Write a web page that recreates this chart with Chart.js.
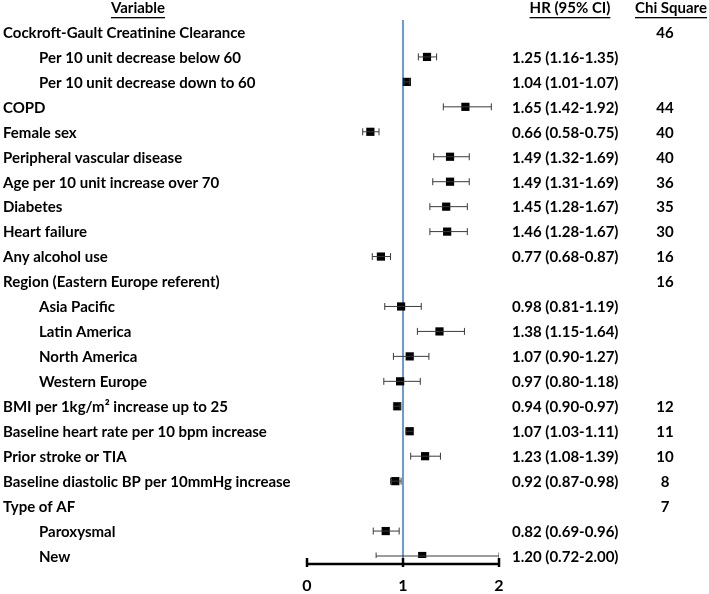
<!DOCTYPE html>
<html>
<head>
<meta charset="utf-8">
<script src="https://cdn.jsdelivr.net/npm/chart.js@4.4.0/dist/chart.umd.min.js"></script>
<style>
  html, body { margin: 0; padding: 0; background: #fff; }
  #wrap { width: 709px; height: 594px; }
</style>
</head>
<body>
<div id="wrap"><canvas id="forestChart"></canvas></div>
<script>
// rows, top to bottom
var variables = [
  "Cockroft-Gault Creatinine Clearance",
  "Per 10 unit decrease below 60",
  "Per 10 unit decrease down to 60",
  "COPD",
  "Female sex",
  "Peripheral vascular disease",
  "Age per 10 unit increase over 70",
  "Diabetes",
  "Heart failure",
  "Any alcohol use",
  "Region (Eastern Europe referent)",
  "Asia Pacific",
  "Latin America",
  "North America",
  "Western Europe",
  "BMI per 1kg/m\u00B2 increase up to 25",
  "Baseline heart rate per 10 bpm increase",
  "Prior stroke or TIA",
  "Baseline diastolic BP per 10mmHg increase",
  "Type of AF",
  "Paroxysmal",
  "New"
];
var subItem = [false, true, true, false, false, false, false, false, false, false, false,
  true, true, true, true, false, false, false, false, false, true, true];

var hr     = [null, 1.25, 1.04, 1.65, 0.66, 1.49, 1.49, 1.45, 1.46, 0.77, null, 0.98, 1.38, 1.07, 0.97, 0.94, 1.07, 1.23, 0.92, null, 0.82, 1.20];
var ciLow  = [null, 1.16, 1.01, 1.42, 0.58, 1.32, 1.31, 1.28, 1.28, 0.68, null, 0.81, 1.15, 0.90, 0.80, 0.90, 1.03, 1.08, 0.87, null, 0.69, 0.72];
var ciHigh = [null, 1.35, 1.07, 1.92, 0.75, 1.69, 1.69, 1.67, 1.67, 0.87, null, 1.19, 1.64, 1.27, 1.18, 0.97, 1.11, 1.39, 0.98, null, 0.96, 2.00];
var chiSquare = [46, null, null, 44, 40, 40, 36, 35, 30, 16, 16, null, null, null, null, 12, 11, 10, 8, 7, null, null];

var xTicks = [0, 1, 2];

var FONT = "Lato, 'Open Sans', sans-serif";
var BLUE = '#6b9bd2';

// build datasets from the arrays
var ciLines = [], ciCaps = [], hrPoints = [];
for (var i = 0; i < variables.length; i++) {
  if (hr[i] === null) continue;
  ciLines.push({x: ciLow[i], y: i}, {x: ciHigh[i], y: i}, {x: null, y: null});
  ciCaps.push({x: ciLow[i], y: i}, {x: ciHigh[i], y: i});
  hrPoints.push({x: hr[i], y: i});
}

function fmt(v) { return v.toFixed(2); }

// text columns + axis baseline
var tablePlugin = {
  id: 'table',
  afterDraw: function (chart) {
    var c = chart.ctx, ys = chart.scales.y, xs = chart.scales.x;
    c.save();
    c.fillStyle = '#000';
    c.textBaseline = 'middle';

    // headers
    c.font = 'bold 15px ' + FONT;
    c.textAlign = 'center';
    [["Variable", 138], ["HR (95% CI)", 570], ["Chi Square", 671]].forEach(function (h) {
      c.fillText(h[0], h[1], 8);
      var w = c.measureText(h[0]).width;
      c.fillRect(h[1] - w / 2, 17, w, 1.3);
    });

    for (var i = 0; i < variables.length; i++) {
      var y = ys.getPixelForValue(i) + 1;
      c.textAlign = 'left';
      c.font = 'bold 15px ' + FONT;
      c.fillText(variables[i], subItem[i] ? 39 : 3, y);
      if (hr[i] !== null) {
        c.fillText(fmt(hr[i]) + ' (' + fmt(ciLow[i]) + '-' + fmt(ciHigh[i]) + ')', 512, y);
      }
      if (chiSquare[i] !== null) {
        c.textAlign = 'center';
        c.fillText(String(chiSquare[i]), 665, y);
      }
    }

    // x axis line
    var yb = chart.chartArea.bottom + 6;
    c.strokeStyle = '#000';
    c.lineWidth = 2.5;
    c.beginPath();
    c.moveTo(xs.getPixelForValue(xTicks[0]), yb);
    c.lineTo(xs.getPixelForValue(xTicks[xTicks.length - 1]), yb);
    c.stroke();
    c.restore();
  }
};

var ctx = document.getElementById('forestChart').getContext('2d');
var forestChart = new Chart(ctx, {
  type: 'scatter',
  data: {
    datasets: [
      {
        label: 'CI',
        data: ciLines,
        showLine: true,
        spanGaps: false,
        borderColor: '#3a3a3a',
        borderWidth: 1,
        pointRadius: 0
      },
      {
        label: 'CI caps',
        data: ciCaps,
        pointStyle: 'line',
        rotation: 90,
        pointRadius: 3.5,
        borderColor: '#3a3a3a',
        borderWidth: 1
      },
      {
        label: 'HR',
        data: hrPoints,
        pointStyle: 'rect',
        pointRadius: 5.8,
        backgroundColor: '#000',
        borderColor: '#000',
        borderWidth: 0
      }
    ]
  },
  options: {
    responsive: true,
    maintainAspectRatio: false,
    animation: false,
    layout: { padding: { left: 307, right: 210, top: 20, bottom: 0 } },
    plugins: { legend: { display: false }, tooltip: { enabled: false } },
    scales: {
      x: {
        type: 'linear',
        min: xTicks[0],
        max: xTicks[xTicks.length - 1],
        afterBuildTicks: function (axis) { axis.ticks = xTicks.map(function (v) { return {value: v}; }); },
        afterFit: function (axis) { axis.height = 36; },
        border: { display: false },
        grid: {
          drawOnChartArea: true,
          color: function (c) { return c.tick && c.tick.value === 1 ? BLUE : 'rgba(0,0,0,0)'; },
          lineWidth: 2,
          drawTicks: true,
          tickLength: 9,
          tickColor: '#000',
          tickWidth: 2.5
        },
        ticks: {
          color: '#000',
          padding: 9,
          font: { family: FONT, size: 16, weight: 'bold' }
        }
      },
      y: {
        type: 'linear',
        reverse: true,
        min: -0.48,
        max: 21.08,
        display: false
      }
    }
  },
  plugins: [tablePlugin]
});
</script>
</body>
</html>
